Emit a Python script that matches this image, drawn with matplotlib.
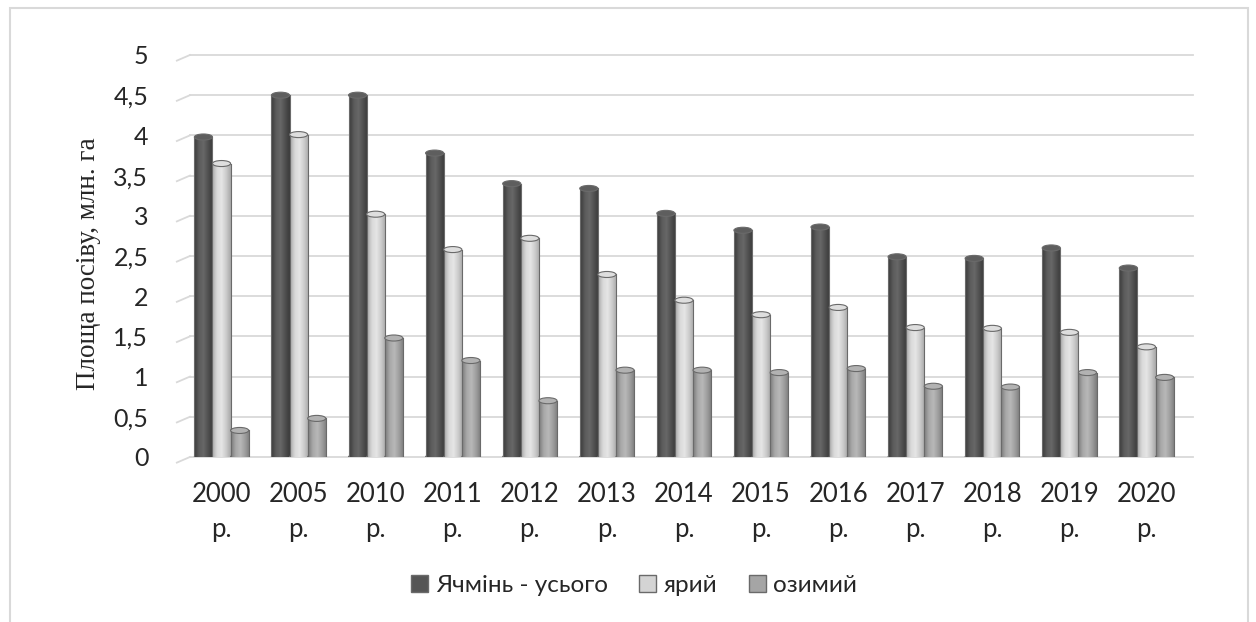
import numpy as np
import matplotlib.pyplot as plt
import matplotlib.transforms as mtransforms
from matplotlib.patches import Ellipse, Rectangle
from matplotlib.colors import LinearSegmentedColormap

# посівні площі ячменю, млн. га
years = ['2000', '2005', '2010', '2011', '2012', '2013', '2014',
         '2015', '2016', '2017', '2018', '2019', '2020']
total = [3.98, 4.50, 4.50, 3.78, 3.40, 3.34, 3.03, 2.82, 2.86, 2.49, 2.47, 2.60, 2.35]
spring = [3.65, 4.01, 3.02, 2.58, 2.72, 2.27, 1.95, 1.77, 1.86, 1.61, 1.60, 1.55, 1.37]
winter = [0.33, 0.48, 1.48, 1.20, 0.70, 1.08, 1.08, 1.05, 1.10, 0.88, 0.87, 1.05, 0.99]

labels = ['Ячмінь - усього', 'ярий', 'озимий']
face = ['#555555', '#d4d4d4', '#a5a5a5']
shade = [['#3a3a3a', '#5a5a5a', '#686868', '#505050', '#3a3a3a'],
         ['#a8a8a8', '#d8d8d8', '#e6e6e6', '#cccccc', '#a8a8a8'],
         ['#7c7c7c', '#a8a8a8', '#b8b8b8', '#9e9e9e', '#7c7c7c']]
tops = ['#5e5e5e', '#dedede', '#b2b2b2']
edge = '#6a6a6a'

plt.rcParams['font.family'] = ['Lato', 'DejaVu Sans']

fig = plt.figure(figsize=(12.56, 6.22), dpi=100)
ax = fig.add_axes([183/1256, 1 - 457/622, (1185-183)/1256, (457-55)/622])

# рамка навколо діаграми
fig.patches.append(Rectangle((10/1256, -0.1), 1238/1256, 1.1 - 8/622,
                             transform=fig.transFigure, fill=False,
                             edgecolor='#d9d9d9', linewidth=1.5))

# сітка на задній стінці з косим відрізком зліва
yt = np.arange(0, 5.01, 0.5)
for v in yt:
    ax.plot([-0.41, 12.61], [v, v], color='#d9d9d9', lw=1.3, zorder=0,
            clip_on=False)
    ax.plot([-0.58, -0.41], [v - 0.07, v], color='#d9d9d9', lw=1.3,
            zorder=0, clip_on=False)

w = 0.235
eh = 0.075
x = np.arange(len(years))
for s, vals in enumerate([total, spring, winter]):
    cmap = LinearSegmentedColormap.from_list('c%d' % s, shade[s])
    grad = np.linspace(0, 1, 64).reshape(1, -1)
    for i, v in enumerate(vals):
        xc = x[i] + (s - 1) * w
        x0 = xc - w / 2
        z = 2 + s
        ax.add_patch(Ellipse((xc, 0), w, eh, facecolor=shade[s][0],
                             edgecolor=edge, lw=0.8, zorder=z))
        rect = Rectangle((x0, 0), w, v, facecolor='none', edgecolor='none', zorder=z)
        ax.add_patch(rect)
        im = ax.imshow(grad, cmap=cmap, extent=(x0, x0 + w, 0, v),
                       aspect='auto', zorder=z + 0.1, interpolation='bilinear')
        im.set_clip_path(rect)
        ax.plot([x0, x0], [0, v], color=edge, lw=0.8, zorder=z + 0.2)
        ax.plot([x0 + w, x0 + w], [0, v], color=edge, lw=0.8, zorder=z + 0.2)
        ax.add_patch(Ellipse((xc, v), w, eh, facecolor=tops[s],
                             edgecolor=edge, lw=0.8, zorder=z + 0.3))

ax.set_xlim(-0.5, 12.5)
ax.set_ylim(0, 5)
ax.set_xticks(x)
ax.set_xticklabels([y + '\nр.' for y in years], fontsize=18.5,
                   color='#262626', linespacing=1.5)
# підписи років трохи зсунуті вліво
shift = mtransforms.ScaledTranslation(-9/100, 0, fig.dpi_scale_trans)
for lab in ax.get_xticklabels():
    lab.set_transform(lab.get_transform() + shift)
ax.set_yticks(yt)
ax.set_yticklabels(['0', '0,5', '1', '1,5', '2', '2,5', '3', '3,5', '4', '4,5', '5'],
                   fontsize=18, color='#262626')
ax.tick_params(length=0)
ax.tick_params(axis='y', pad=25)
ax.tick_params(axis='x', pad=18)
for sp in ax.spines.values():
    sp.set_visible(False)

ax.set_ylabel('Площа посіву, млн. га', family='Liberation Serif',
              fontsize=19.5, color='#262626', labelpad=6)
ax.yaxis.set_label_coords(-0.082, 0.48)

handles = [Rectangle((0, 0), 1, 1, facecolor=face[k], edgecolor=edge, lw=1.0)
           for k in range(3)]
fig.legend(handles, labels, loc='center', bbox_to_anchor=(0.505, 0.058),
           ncol=3, frameon=False, fontsize=17.5, handlelength=0.7,
           handleheight=0.7, handletextpad=0.3, columnspacing=1.3,
           labelcolor='#262626')

fig.savefig('out.png', dpi=100)
